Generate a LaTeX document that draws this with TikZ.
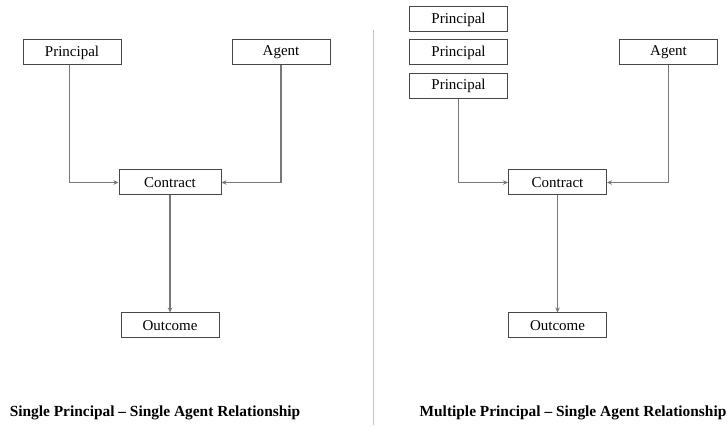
\documentclass[tikz,border=0pt]{standalone}
\usepackage{fontspec}
\setmainfont{Liberation Serif}
\usetikzlibrary{arrows.meta}
\definecolor{boxline}{RGB}{70,70,70}
\definecolor{connline}{RGB}{120,120,120}
\definecolor{divider}{RGB}{185,195,225}
\begin{document}
\begin{tikzpicture}[x=1pt,y=-1pt,
  box/.style={draw=boxline,line width=1pt,minimum width=98pt,minimum height=25pt,inner sep=0pt,font=\fontsize{15}{17}\selectfont},
  conn/.style={draw=connline,line width=1.6pt,-{Stealth[length=5pt,width=4.5pt]}},
  caption/.style={font=\bfseries\fontsize{15.4}{17}\selectfont,inner sep=0pt}]
\useasboundingbox (0,0) rectangle (728,427);
% left diagram
\node[box] (P1) at (72,52.5) {Principal};
\node[box] (A1) at (281,52.5) {Agent};
\node[box,minimum width=102pt] (C1) at (170,182.5) {Contract};
\node[box] (O1) at (170,325.5) {Outcome};
\draw[conn] ([xshift=-2.5pt]P1.south) |- (C1.west);
\draw[conn] (A1.south) |- (C1.east);
\draw[conn] (C1.south) -- (O1.north);
% divider
\coordinate (d1) at (373,30);
\coordinate (d2) at (373,425);
\draw[divider,line width=1pt] (d1) -- (d2);
% right diagram
\node[box] (Pa) at (458.5,19.5) {Principal};
\node[box] (Pb) at (458.5,52.5) {Principal};
\node[box] (Pc) at (458.5,86) {Principal};
\node[box] (A2) at (668.5,52.5) {Agent};
\node[box] (C2) at (557.5,182.5) {Contract};
\node[box] (O2) at (557.5,325.5) {Outcome};
\draw[conn] (Pc.south) |- (C2.west);
\draw[conn] (A2.south) |- (C2.east);
\draw[conn] (C2.south) -- (O2.north);
% captions
\node[caption] (cap1) at (155,413) {Single Principal – Single Agent Relationship};
\node[caption] (cap2) at (573,413) {Multiple Principal – Single Agent Relationship};
\end{tikzpicture}
\end{document}
